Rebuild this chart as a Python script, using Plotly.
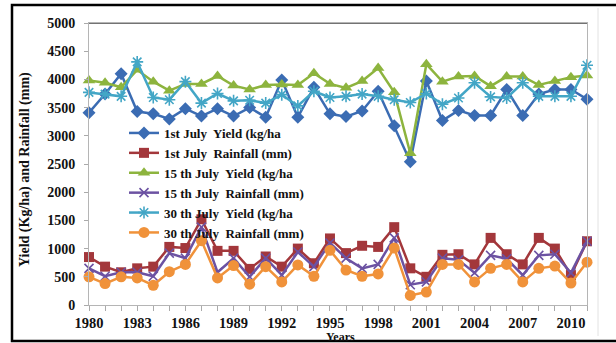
import plotly.graph_objects as go

years = list(range(1980, 2012))

yield_1jul = [3410, 3740, 4100, 3430, 3390, 3300, 3480, 3350, 3480, 3350,
              3500, 3330, 3990, 3330, 3860, 3390, 3340, 3440, 3790, 3180,
              2540, 3970, 3270, 3450, 3360, 3360, 3820, 3360, 3740, 3820,
              3820, 3650]
rain_1jul = [850, 680, 580, 650, 680, 1030, 1010, 1520, 960, 960,
             640, 860, 680, 1000, 740, 1180, 920, 1050, 1030, 1380,
             650, 500, 890, 900, 720, 1190, 900, 720, 1190, 1000,
             530, 1130]
yield_15jul = [3980, 3940, 3860, 4170, 3960, 3800, 3920, 3920, 4060, 3890,
               3820, 3900, 3910, 3900, 4110, 3920, 3850, 3970, 4200, 3770,
               2690, 4270, 3960, 4050, 4060, 3880, 4050, 4050, 3900, 3970,
               4040, 4070]
rain_15jul = [650, 510, 580, 580, 510, 920, 830, 1380, 580, 830,
              500, 830, 530, 940, 680, 1100, 830, 650, 720, 1190,
              360, 410, 830, 800, 570, 880, 820, 530, 880, 900,
              570, 1130]
yield_30jul = [3770, 3740, 3700, 4310, 3680, 3640, 3960, 3580, 3750, 3620,
               3630, 3580, 3730, 3530, 3790, 3680, 3700, 3740, 3700, 3640,
               3590, 3750, 3560, 3670, 3940, 3690, 3670, 3940, 3700, 3700,
               3700, 4250]
rain_30jul = [500, 380, 500, 480, 350, 590, 720, 1140, 480, 700,
              370, 680, 410, 710, 510, 970, 620, 510, 550, 1010,
              170, 230, 720, 720, 410, 650, 720, 410, 650, 690,
              390, 760]

series_names = ["1st July  Yield (kg/ha", "1st July  Rainfall (mm)",
                "15 th July  Yield (kg/ha", "15 th July  Rainfall (mm)",
                "30 th July  Yield (kg/ha", "30 th July  Rainfall (mm)"]
series_values = [yield_1jul, rain_1jul, yield_15jul, rain_15jul, yield_30jul, rain_30jul]
colors = ["#3b6cb3", "#a3373b", "#8db43e", "#6c52a2", "#43a6c6", "#f0923a"]
symbols = ["diamond", "square", "triangle-up", "x-thin-open", "asterisk-open", "circle"]
msizes = [10, 10, 11, 9, 10, 11]

FONT = "Liberation Serif, Times New Roman, serif"

fig = go.Figure()
for name, vals, col, sym, ms in zip(series_names, series_values, colors, symbols, msizes):
    mk = dict(symbol=sym, size=ms, color=col)
    if sym.endswith("open"):
        mk["line"] = dict(color=col, width=1.6)
    fig.add_trace(go.Scatter(x=years, y=vals, name=name, mode="lines+markers",
                             line=dict(color=col, width=2.5), marker=mk,
                             cliponaxis=False))

W, H = 616, 343
L, R, T, B = 89, 29, 23, 38
pw, ph = W - L - R, H - T - B

def px(xp):
    return (xp - L) / pw

def py(yp):
    return (H - B - yp) / ph

fig.update_layout(
    width=W, height=H,
    margin=dict(l=L, r=R, t=T, b=B),
    paper_bgcolor="white", plot_bgcolor="white",
    font=dict(family=FONT, size=14, color="#111", weight="bold"),
    showlegend=True,
    legend=dict(x=px(124), y=py(118), xanchor="left", yanchor="top",
                bgcolor="rgba(0,0,0,0)", font=dict(family=FONT, size=13, weight="bold", color="#111"),
                itemwidth=30, tracegroupgap=0),
    xaxis=dict(range=[1980, 2011], tick0=1980, dtick=3, ticks="outside", ticklen=5,
               tickcolor="#aaa", showline=True, linecolor="#b5b5b5", linewidth=1, mirror=True,
               showgrid=False, zeroline=False, ticklabelstandoff=0,
               tickfont=dict(family=FONT, size=14.5, weight="bold", color="#111"),
               minor=dict(dtick=1, ticks="outside", ticklen=5, tickcolor="#aaa")),
    yaxis=dict(range=[0, 5000], dtick=500, ticks="outside", ticklen=4, tickcolor="#aaa",
               showline=True, linecolor="#b5b5b5", linewidth=1, mirror=True,
               showgrid=False, zeroline=False, ticklabelstandoff=6,
               tickfont=dict(family=FONT, size=14, weight="bold", color="#111")),
    shapes=[
        dict(type="line", xref="paper", yref="y", x0=0, x1=1, y0=5000, y1=5000,
             line=dict(color="#444", width=1.5)),
        dict(type="rect", xref="paper", yref="paper", x0=px(12), x1=px(640), y0=py(341), y1=py(5),
             line=dict(color="black", width=2.5), layer="above"),
        dict(type="line", xref="paper", yref="paper", x0=px(598), x1=px(598), y0=py(336), y1=py(8),
             line=dict(color="#e2e2e2", width=1)),
    ],
    annotations=[
        dict(text="Yield (Kg/ha) and Rainfall (mm)", xref="paper", yref="paper",
             x=px(25), y=py(170), textangle=-90, showarrow=False,
             xanchor="center", yanchor="middle",
             font=dict(family=FONT, size=14, weight="bold", color="#111")),
        dict(text="Years", xref="paper", yref="paper", x=px(340), y=py(336.5),
             showarrow=False, xanchor="center", yanchor="middle",
             font=dict(family=FONT, size=12, weight="bold", color="#111")),
    ],
)

fig.write_html("out.html", config={"displayModeBar": False},
               post_script="document.body.style.margin='0';document.body.style.padding='0';")
